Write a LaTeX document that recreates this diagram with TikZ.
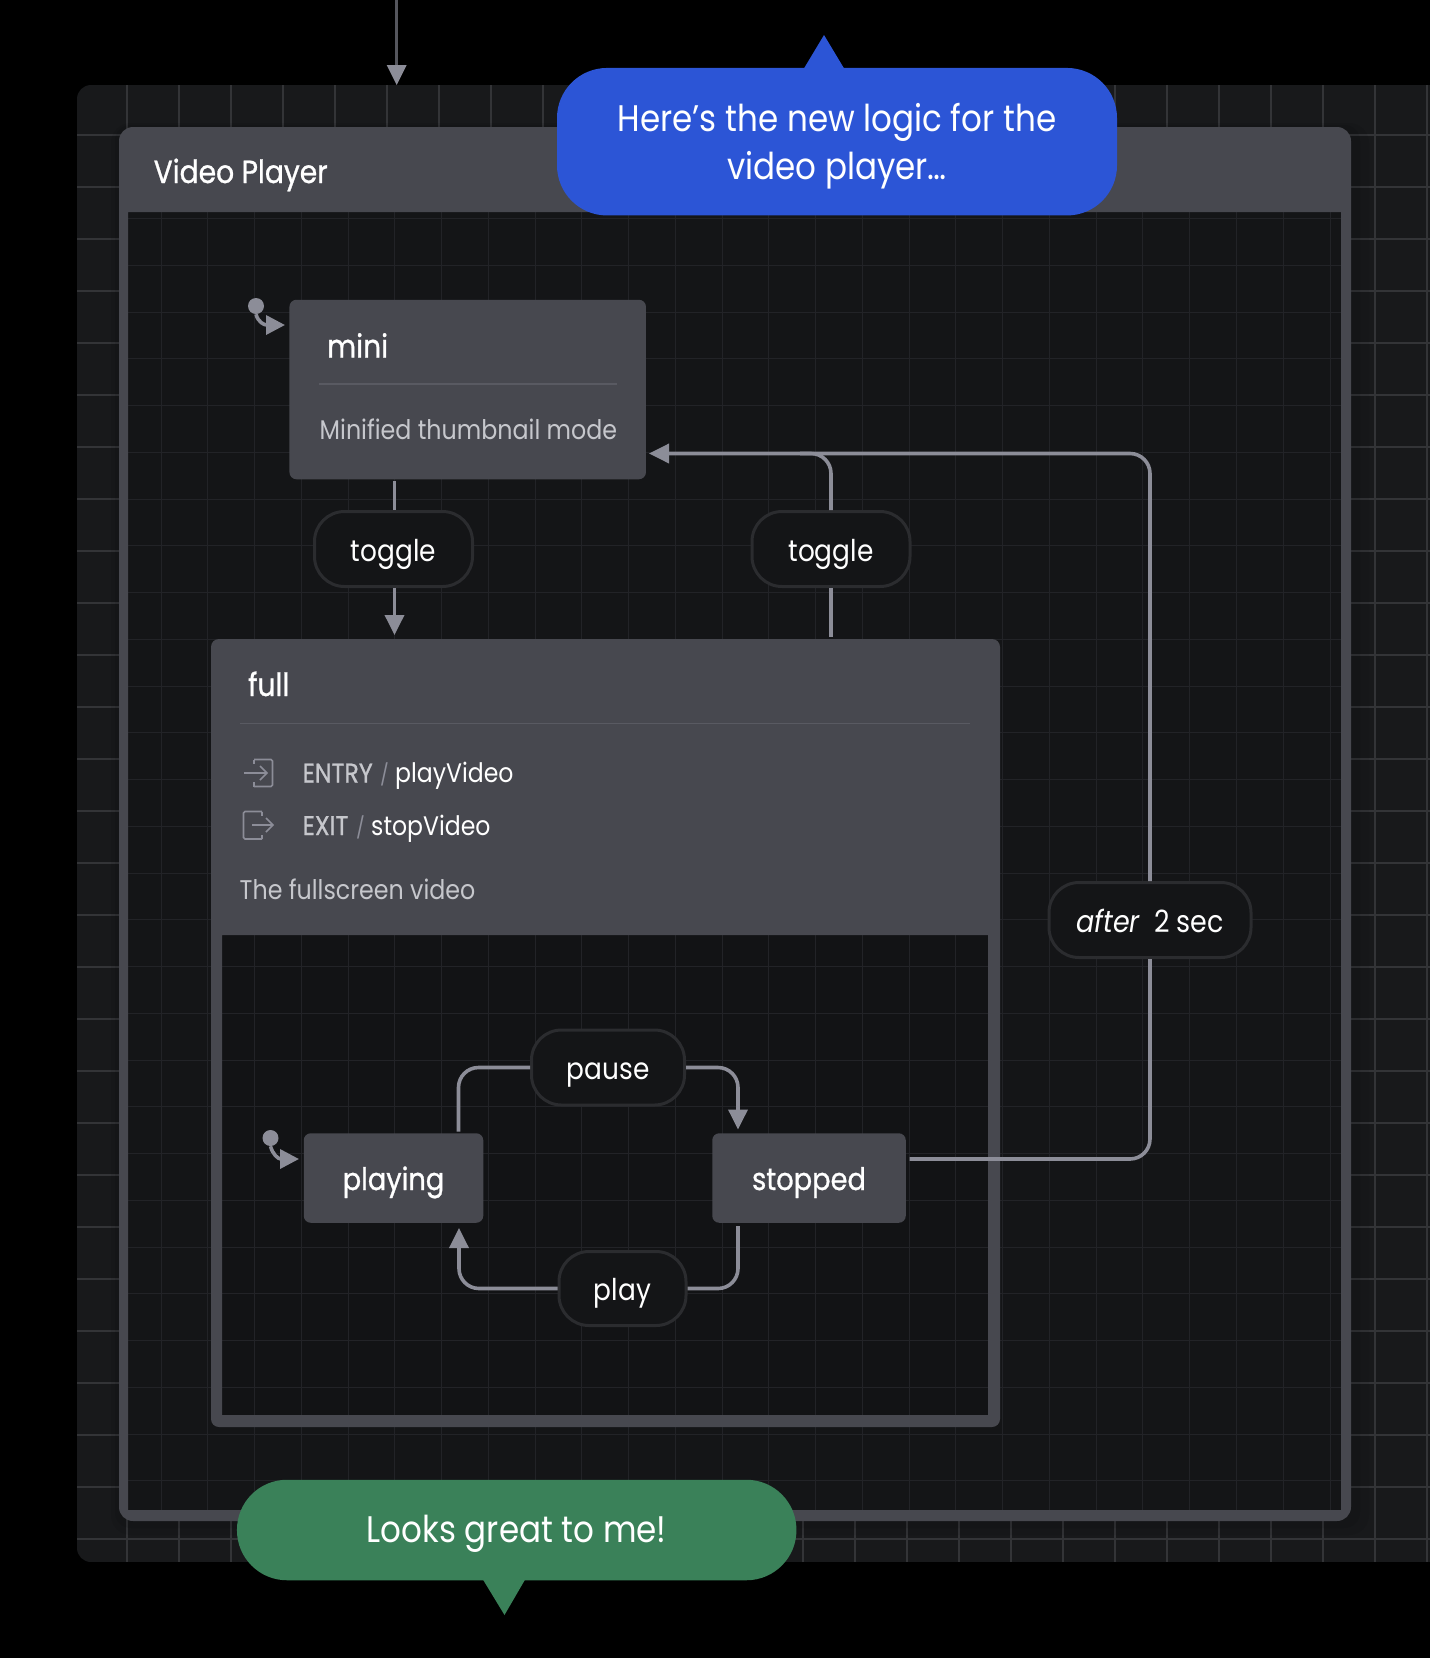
\documentclass[tikz,border=0pt]{standalone}
\usepackage{fontspec}
\setmainfont{Poppins}[FakeStretch=0.88]
\newfontfamily\medfont{Poppins}[FakeStretch=0.88, FakeBold=0.9, ItalicFont={Poppins Italic}]
\usetikzlibrary{arrows.meta,positioning}

\definecolor{pageBlack}{HTML}{000000}
\definecolor{canvasBg}{HTML}{18191B}
\definecolor{canvasGrid}{HTML}{333437}
\definecolor{innerBg}{HTML}{141517}
\definecolor{fullBg}{HTML}{121315}
\definecolor{innerGrid}{HTML}{222327}
\definecolor{stateBg}{HTML}{47484F}
\definecolor{stateRule}{HTML}{595A62}
\definecolor{edgeGrey}{HTML}{8C8D98}
\definecolor{topLine}{HTML}{55565D}
\definecolor{pillLine}{HTML}{2B2C2F}
\definecolor{softText}{HTML}{C6C7CC}
\definecolor{bubbleBlue}{HTML}{2C55D6}
\definecolor{bubbleGreen}{HTML}{3A8159}

\tikzset{
    edge/.style={draw=edgeGrey, line width=3.6pt, rounded corners=20pt},
    tipped/.style={edge, -{Triangle[length=20pt, width=19pt]}},
    pill/.style={draw=pillLine, line width=3pt, fill=innerBg, rounded corners=30pt,
        text=white, font=\fontsize{30}{35}\selectfont, inner sep=0pt,
        text height=24pt, text depth=0pt},
    statebox/.style={fill=stateBg, rounded corners=7pt, text=white, inner sep=0pt,
        font=\medfont\fontsize{31}{36}\selectfont, text height=24pt, text depth=0pt},
    title/.style={anchor=base west, inner sep=0pt, text=white,
        font=\medfont\fontsize{32}{37}\selectfont},
    desc/.style={anchor=base west, inner sep=0pt, text=softText,
        font=\fontsize{27}{32}\selectfont},
    action/.style={anchor=base west, inner sep=0pt, text=white,
        font=\fontsize{26.8}{32}\selectfont},
    keyword/.style={anchor=base west, inner sep=0pt, text=softText,
        font=\medfont\fontsize{27}{32}\selectfont},
    slash/.style={anchor=base west, inner sep=0pt, text=edgeGrey,
        font=\fontsize{21}{25}\selectfont},
    bubble/.style={rounded corners=50pt, inner sep=0pt},
    bubbletext/.style={text=white, inner sep=0pt, align=center,
        font=\fontsize{37}{47.5}\selectfont},
    icon/.style={draw=edgeGrey, line width=1.6pt, rounded corners=1.5pt},
}

\begin{document}
\begin{tikzpicture}[x=1pt, y=-1pt, >=Latex]
    % --- page ---
    \useasboundingbox (0,0) rectangle (1430,1658);
    \fill[pageBlack] (0,0) rectangle (1430,1658);

    % --- outer canvas with its grid ---
    \begin{scope}
        \clip[rounded corners=14pt] (77,85) rectangle (1500,1562);
        \fill[canvasBg] (77,85) rectangle (1500,1562);
        \foreach \gx in {0,...,26}
            \draw[canvasGrid, line width=1.4pt] (127+52*\gx,85) -- (127+52*\gx,1562);
        \foreach \gy in {0,...,27}
            \draw[canvasGrid, line width=1.4pt] (77,135+52*\gy) -- (1430,135+52*\gy);
    \end{scope}

    % --- Video Player panel ---
    \fill[black, opacity=0.07, rounded corners=20pt] (111,123) rectangle (1369,1535);
    \fill[black, opacity=0.07, rounded corners=16pt] (115,125) rectangle (1360,1528);
    \fill[innerBg] (128,212) rectangle (1341,1510);
    \fill[fullBg] (222,935) rectangle (988,1415);
    \begin{scope}
        \clip (128,212) rectangle (1341,1510);
        \foreach \gx in {0,...,25}
            \draw[innerGrid, line width=1pt] (161+46.76*\gx,212) -- (161+46.76*\gx,1510);
        \foreach \gy in {0,...,27}
            \draw[innerGrid, line width=1pt] (128,218.5+46.75*\gy) -- (1341,218.5+46.75*\gy);
    \end{scope}
    \fill[stateBg, even odd rule] [rounded corners=14pt] (119,127) rectangle (1351,1521)
        [sharp corners] (128,212) rectangle (1341,1510);
    \node[title] (panelTitle) at (153.5,183) {Video Player};

    % --- full state (header and frame) ---
    \fill[stateBg, even odd rule] [rounded corners=8pt] (211,639) rectangle (1000,1427)
        [sharp corners] (222,935) rectangle (988,1415);
    \draw[stateRule, line width=1.5pt] (239.5,723.5) -- (970,723.5);
    \node[title] (fullTitle) at (248,696) {full};

    % entry and exit rows
    \draw[icon] (254,759.5) -- (272.5,759.5) -- (272.5,786.5) -- (254,786.5);
    \draw[icon] (254,759.5) -- (254,764);
    \draw[icon] (254,786.5) -- (254,782);
    \draw[icon, rounded corners=0pt] (244,773) -- (267,773) (260,766) -- (267,773) -- (260,780);
    \node[keyword] (entryKey) at (302.5,782.5) {ENTRY};
    \node[slash] (entrySlash) at (380,782.5) {/};
    \node[action] (entryName) at (395,782.5) {playVideo};

    \draw[icon] (262,811.5) -- (243.5,811.5) -- (243.5,839) -- (262,839);
    \draw[icon] (262,811.5) -- (262,816);
    \draw[icon] (262,839) -- (262,834.5);
    \draw[icon, rounded corners=0pt] (252,825) -- (273,825) (266,818) -- (273,825) -- (266,832);
    \node[keyword] (exitKey) at (302.5,835) {EXIT};
    \node[slash] (exitSlash) at (356,835) {/};
    \node[action] (exitName) at (371,835) {stopVideo};

    \node[desc] (fullDesc) at (239.5,899) {The fullscreen video};

    % --- mini state ---
    \node[statebox, minimum width=356.5pt, minimum height=179.5pt] (mini) at (467.7,389.5) {};
    \node[title] (miniTitle) at (327,357.5) {mini};
    \draw[stateRule, line width=1.5pt] (318.5,384) -- (617,384);
    \node[desc] (miniDesc) at (319.5,439) {Minified thumbnail mode};

    % --- playing / stopped ---
    \node[statebox, minimum width=179.5pt, minimum height=89.5pt] (playing) at (393.5,1178) {playing};
    \node[statebox, minimum width=193.5pt, minimum height=89.5pt] (stopped) at (809,1178) {stopped};

    % --- transition labels ---
    \node[pill, minimum width=153pt, minimum height=75pt] (pause) at (608,1067.5) {pause};
    \node[pill, minimum width=127pt, minimum height=74pt] (play) at (622.5,1288.5) {play};
    \node[pill, minimum width=158pt, minimum height=75pt] (toggleDown) at (393.5,549) {toggle};
    \node[pill, minimum width=158pt, minimum height=75pt] (toggleUp) at (831,549) {toggle};
    \node[pill, minimum width=202pt, minimum height=75pt, font=\fontsize{30.6}{35}\selectfont] (after) at (1150,920) {\textit{after}\hspace{0.45em}2 sec};

    % --- free ends of the connectors ---
    \coordinate (topStart) at (396.7,0);
    \coordinate (topEnd) at (396.7,85);
    \coordinate (miniIn) at (649,453.5);
    \coordinate (miniBot) at (394.5,481);
    \coordinate (fullIn) at (394.5,635);
    \coordinate (fullTop) at (831,637);
    \coordinate (playingTop) at (458.5,1131.5);
    \coordinate (playingBot) at (459,1228);
    \coordinate (stoppedTop) at (738,1129.5);
    \coordinate (stoppedBot) at (738,1226);
    \coordinate (stoppedOut) at (909.5,1159);
    \coordinate (afterOut) at (1150,1159);
    \coordinate (upperCorner) at (1150,453.5);
    \coordinate (toggleCorner) at (831,453.5);

    % --- connectors ---
    \draw[draw=topLine, line width=2.5pt] (topStart) -- (396.7,70);
    \fill[edgeGrey] (topEnd) -- (386.7,65) -- (406.7,65) -- cycle;

    \draw[edge] (miniBot) -- (miniBot |- toggleDown.north);
    \draw[tipped] (miniBot |- toggleDown.south) -- (fullIn);

    \draw[edge] (fullTop) -- (toggleUp.south);
    \draw[edge] (toggleUp.north) -- (toggleCorner) -- (miniIn -| 800,0);
    \draw[tipped, rounded corners=20pt] (after.north) -- (upperCorner) -- (miniIn);
    \draw[edge] (stoppedOut) -- (afterOut) -- (after.south);

    \draw[edge] (pause.west) -| (playingTop);
    \draw[tipped] (pause.east) -| (stoppedTop);
    \draw[edge] (stoppedBot) |- (play.east);
    \draw[tipped] (play.west) -| (playingBot);

    % --- initial markers ---
    \node[fill=edgeGrey, circle, inner sep=0pt, minimum size=16pt] (miniDot) at (256,306) {};
    \draw[edgeGrey, line width=3.6pt, -{Triangle[length=19pt, width=19pt]}]
        (miniDot.south) .. controls (258,322) and (264,325) .. (285,325);
    \node[fill=edgeGrey, circle, inner sep=0pt, minimum size=16pt] (playingDot) at (270.5,1138) {};
    \draw[edgeGrey, line width=3.6pt, -{Triangle[length=19pt, width=19pt]}]
        (playingDot.south) .. controls (272.5,1154) and (278,1159) .. (299,1159);

    % --- speech bubbles ---
    \node[bubble, fill=bubbleBlue, minimum width=560pt, minimum height=147.5pt] (blueNote) at (837,141.7) {};
    \node[bubbletext] (blueText) at (837,146) {Here’s the new logic for the\\video player\ldots};
    \fill[bubbleBlue] (803,70) -- (824,35) -- (845,70) -- cycle;
    \node[bubble, fill=bubbleGreen, minimum width=559.5pt, minimum height=100.5pt] (greenNote) at (516.7,1530) {};
    \node[bubbletext] (greenText) at (516.7,1534) {Looks great to me!};
    \fill[bubbleGreen] (482,1578) -- (504.5,1615) -- (526,1578) -- cycle;
\end{tikzpicture}
\end{document}
